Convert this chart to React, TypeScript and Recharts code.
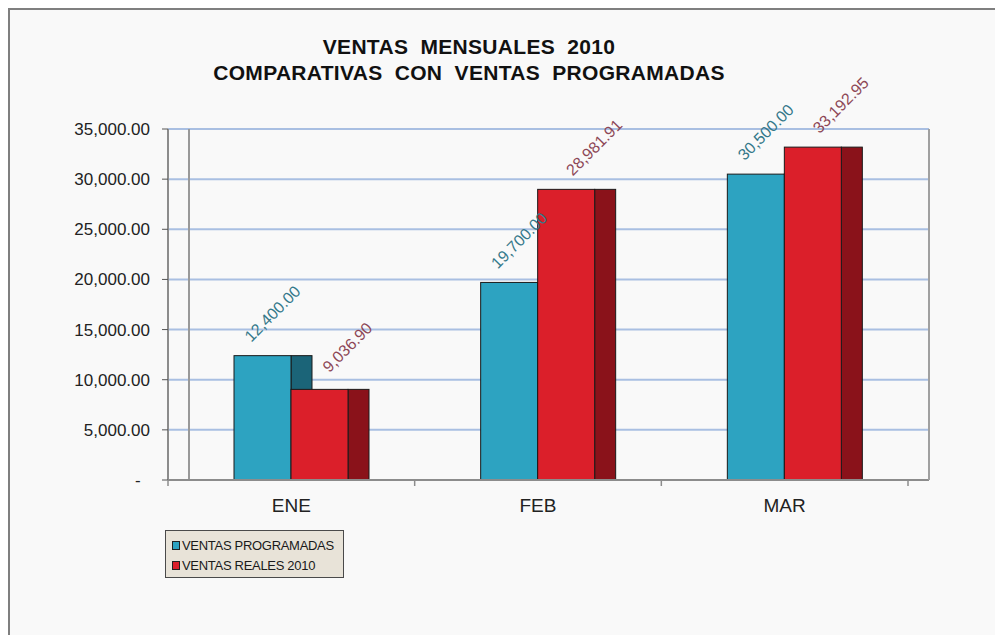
import React from 'react';
import { BarChart, Bar, XAxis, YAxis, CartesianGrid, LabelList } from 'recharts';

const categories = ['ENE', 'FEB', 'MAR'];
const ventasProgramadas = [12400, 19700, 30500];
const ventasReales = [9036.9, 28981.91, 33192.95];
const yTicks = [0, 5000, 10000, 15000, 20000, 25000, 30000, 35000];
const titleLines = ['VENTAS  MENSUALES  2010', 'COMPARATIVAS  CON  VENTAS  PROGRAMADAS'];
const seriesNames = ['VENTAS PROGRAMADAS', 'VENTAS REALES 2010'];

const data = categories.map((c, i) => ({ cat: c, prog: ventasProgramadas[i], real: ventasReales[i] }));

const FONT = "'Liberation Sans', Arial, Helvetica, sans-serif";
const CHART_W = 993;
const CHART_H = 625;
const MARGIN = { top: 119, right: 73, bottom: 125, left: 0 };
const YAXIS_W = 158;
const DEPTH = 21;
const PLOT_W = CHART_W - MARGIN.left - YAXIS_W - MARGIN.right - 1;
const CAT_W = (PLOT_W - DEPTH) / categories.length;

const BLUE = '#2da3c1';
const BLUE_SIDE = '#1b6478';
const RED = '#db1f2a';
const RED_SIDE = '#8a121a';
const BLUE_LABEL = '#34788a';
const RED_LABEL = '#8d4756';

const fmt = (v: number) =>
  v === 0 ? '-\u00A0\u00A0' : v.toLocaleString('en-US', { minimumFractionDigits: 2, maximumFractionDigits: 2 });

const make3DBar = (front: string, side: string) => (props: any) => {
  const { x, y, width, height } = props;
  if (height == null || height <= 0) return <g />;
  return (
    <g>
      <rect x={x + width} y={y} width={DEPTH} height={height} fill={side} stroke="#1a1a1a" strokeWidth={1} />
      <rect x={x} y={y} width={width} height={height} fill={front} stroke="#1a1a1a" strokeWidth={1} />
    </g>
  );
};

const makeLabel = (color: string, dx: number) => (props: any) => {
  const { x, y, width, value } = props;
  const cx = x + width / 2 + dx;
  const cy = y - 42;
  return (
    <text
      x={cx}
      y={cy}
      fill={color}
      fontSize={16}
      fontFamily={FONT}
      textAnchor="middle"
      dominantBaseline="central"
      transform={`rotate(-45, ${cx}, ${cy})`}
    >
      {fmt(value)}
    </text>
  );
};

const XTick = (props: any) => {
  const { x, y, payload, index } = props;
  const half = CAT_W / 2;
  return (
    <g>
      <line x1={x - half} y1={y} x2={x - half} y2={y + 6} stroke="#8c8c8c" strokeWidth={1.5} />
      {index === categories.length - 1 && (
        <line x1={x + half} y1={y} x2={x + half} y2={y + 6} stroke="#8c8c8c" strokeWidth={1.5} />
      )}
      <text x={x} y={y + 32} textAnchor="middle" fontSize={19} fontFamily={FONT} fill="#222">
        {payload.value}
      </text>
    </g>
  );
};

export default function App() {
  const swatches = [
    { name: seriesNames[0], color: BLUE },
    { name: seriesNames[1], color: RED },
  ];
  return (
    <div
      style={{
        position: 'relative',
        width: 995,
        height: 627,
        boxSizing: 'border-box',
        borderTop: '2px solid #7f7f7f',
        borderLeft: '2px solid #7f7f7f',
        background: '#f9f9f9',
        overflow: 'hidden',
        fontFamily: FONT,
      }}
    >
      <div
        style={{
          position: 'absolute',
          left: 0,
          top: 24,
          width: 918,
          textAlign: 'center',
          fontWeight: 'bold',
          fontSize: 21,
          letterSpacing: 0.3,
          lineHeight: '26px',
          whiteSpace: 'pre',
          color: '#111',
        }}
      >
        {titleLines.map((t) => (
          <div key={t}>{t}</div>
        ))}
      </div>
      <div style={{ position: 'absolute', left: 0, top: 0 }}>
        <BarChart width={CHART_W} height={CHART_H} data={data} margin={MARGIN} barGap={0} barSize={57}>
          <CartesianGrid yAxisId="left" horizontal vertical={false} stroke="#a9bfe2" strokeWidth={2} />
          <CartesianGrid yAxisId="left" horizontal={false} vertical verticalPoints={[YAXIS_W + DEPTH]} stroke="#999" strokeWidth={2} />
          <XAxis
            dataKey="cat"
            padding={{ left: 0, right: DEPTH }}
            axisLine={{ stroke: '#8c8c8c', strokeWidth: 2 }}
            tickLine={false}
            tickSize={0}
            tickMargin={0}
            tick={<XTick />}
            interval={0}
          />
          <YAxis
            yAxisId="left"
            width={YAXIS_W}
            domain={[0, 35000]}
            ticks={yTicks}
            tickFormatter={fmt}
            tickSize={6}
            tickMargin={12}
            axisLine={{ stroke: '#8c8c8c', strokeWidth: 2 }}
            tickLine={{ stroke: '#555' }}
            tick={{ fontSize: 17, fill: '#222', fontFamily: FONT }}
            interval={0}
          />
          <YAxis
            yAxisId="right"
            orientation="right"
            width={1}
            domain={[0, 35000]}
            tick={false}
            tickLine={false}
            axisLine={{ stroke: '#a0a0a0', strokeWidth: 2 }}
          />
          <Bar yAxisId="left" dataKey="prog" name={seriesNames[0]} isAnimationActive={false} shape={make3DBar(BLUE, BLUE_SIDE)}>
            <LabelList dataKey="prog" content={makeLabel(BLUE_LABEL, 10)} />
          </Bar>
          <Bar yAxisId="left" dataKey="real" name={seriesNames[1]} isAnimationActive={false} shape={make3DBar(RED, RED_SIDE)}>
            <LabelList dataKey="real" content={makeLabel(RED_LABEL, 28)} />
          </Bar>
        </BarChart>
      </div>
      <div
        style={{
          position: 'absolute',
          left: 155,
          top: 520,
          width: 179,
          height: 48,
          boxSizing: 'border-box',
          border: '1.5px solid #4a4a4a',
          background: '#e8e3d8',
          padding: '4px 0 0 6px',
        }}
      >
        {swatches.map((s) => (
          <div key={s.name} style={{ display: 'flex', alignItems: 'center', height: 20, fontSize: 13, color: '#1a1a1a', letterSpacing: -0.3 }}>
            <span
              style={{
                display: 'inline-block',
                width: 6,
                height: 7,
                background: s.color,
                border: '1px solid #222',
                marginRight: 2,
              }}
            />
            {s.name}
          </div>
        ))}
      </div>
    </div>
  );
}
